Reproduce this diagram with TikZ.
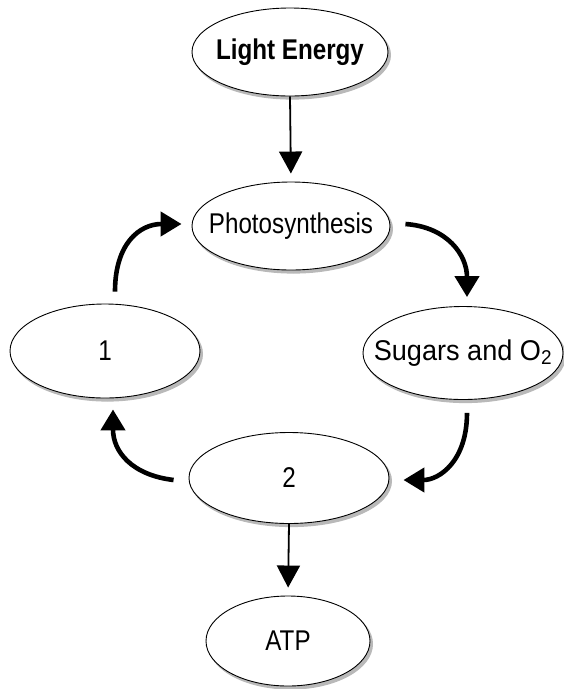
\documentclass[tikz,border=0pt]{standalone}
\usepackage{fontspec}
\usepackage{graphicx}
\setmainfont{Liberation Sans}
\usetikzlibrary{shapes.geometric,arrows.meta}
\newcommand{\tallt}[2][1]{\makebox[0pt][c]{\scalebox{#1}[1.18]{#2}}}
\tikzset{
  oval/.style={ellipse, draw=black, line width=0.9pt, fill=white, inner sep=0pt, font=\fontsize{24.2}{28}\selectfont},
  shadowed/.style={oval, preaction={fill=gray!55, draw=gray!55, line width=1.2pt, transform canvas={shift={(2.4pt,-3pt)}}}},
  straightarrow/.style={line width=1.8pt, shorten >=8pt, -{Triangle[width=23pt,length=22pt]}},
  curvearrow/.style={line width=4.6pt, -{Triangle[width=24pt,length=21pt]}},
}
\begin{document}
\begin{tikzpicture}[x=1pt,y=-1pt]
\useasboundingbox (0,0) rectangle (563,689);
\node[shadowed, minimum width=196pt, minimum height=88pt] (light) at (290,52) {\tallt{\bfseries Light Energy}};
\node[shadowed, minimum width=198pt, minimum height=88pt] (photo) at (291,226) {\tallt{Photosynthesis}};
\node[shadowed, minimum width=190pt, minimum height=94pt] (one) at (105,351) {\tallt{1}};
\node[shadowed, minimum width=200pt, minimum height=93pt] (sugar) at (463,353) {\tallt[1.12]{Sugars and O\textsubscript{2}}};
\node[shadowed, minimum width=200pt, minimum height=91pt] (two) at (289,478) {\tallt{2}};
\node[shadowed, minimum width=164pt, minimum height=90pt] (atp) at (288,641) {\tallt{ATP}};

\draw[straightarrow] (light.south) -- (photo.north);
\draw[straightarrow] (two.south) -- (atp.north);

\draw[curvearrow] ([xshift=10pt,yshift=12pt]one.north) .. controls +(0,-48) and +(-42,0) .. ([xshift=-10pt,yshift=2pt]photo.west);
\draw[curvearrow] ([xshift=15pt,yshift=2pt]photo.east) .. controls +(42,3) and +(0,-42) .. ([xshift=4pt,yshift=9pt]sugar.north);
\draw[curvearrow] ([xshift=4pt,yshift=-13pt]sugar.south) .. controls +(0,48) and +(36,0) .. ([xshift=14pt,yshift=-2pt]two.east);
\draw[curvearrow] ([xshift=-15pt,yshift=-2pt]two.west) .. controls +(-42,-5) and +(0,42) .. ([xshift=8pt,yshift=-11pt]one.south);
\end{tikzpicture}
\end{document}
